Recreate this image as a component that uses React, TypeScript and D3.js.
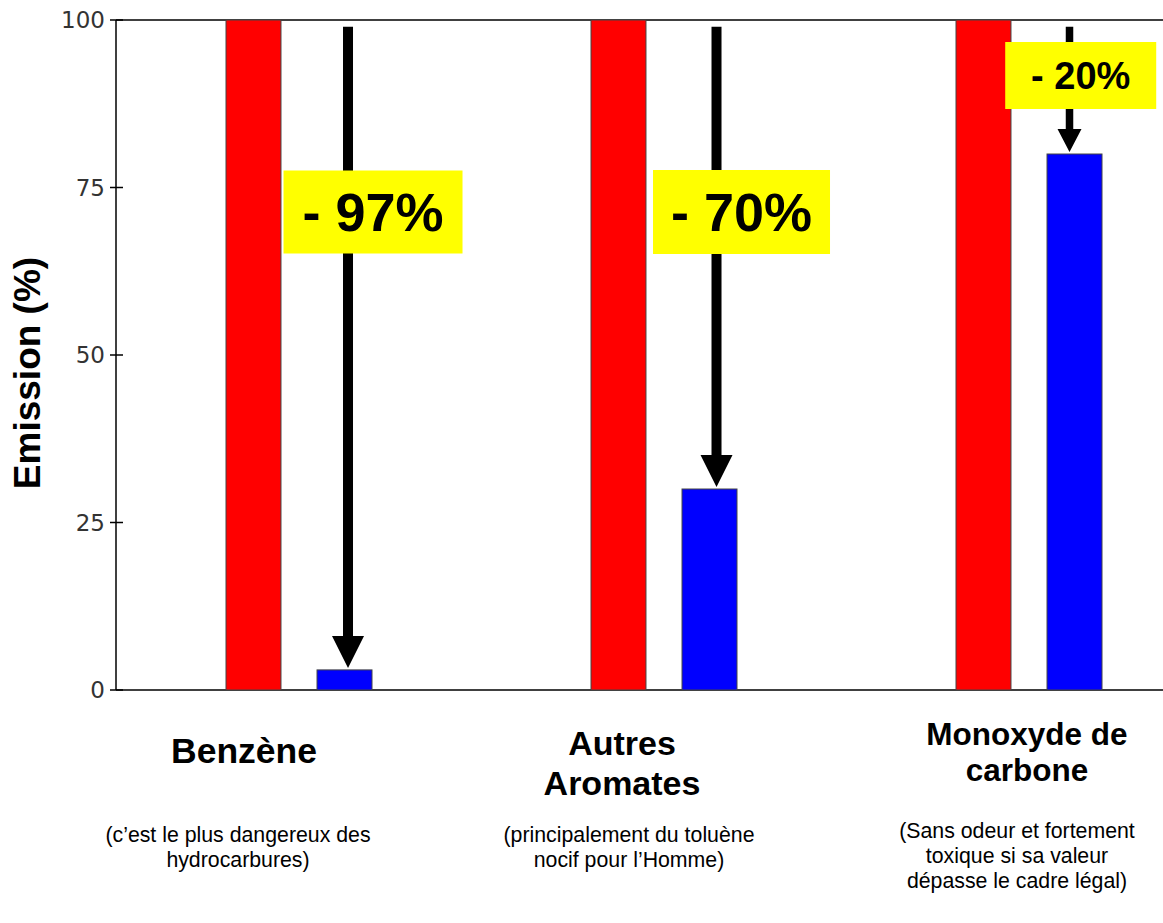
import React from "react";
import * as d3 from "d3";

// ---- data ----
const categories = ["Benzène", "Autres Aromates", "Monoxyde de carbone"];
const categoryLines = [["Benzène"], ["Autres", "Aromates"], ["Monoxyde de", "carbone"]];
const notes = [
  ["(c’est le plus dangereux des", "hydrocarbures)"],
  ["(principalement du toluène", "nocif pour l’Homme)"],
  ["(Sans odeur et fortement", "toxique si sa valeur", "dépasse le cadre légal)"],
];
const series = ["avant", "après"];
const before = [100, 100, 100];
const after = [3, 30, 80];
const yTicks = [0, 25, 50, 75, 100];
const arrowStart = 99;

// ---- layout ----
const W = 1163;
const H = 923;
const axisX = 116;
const bandStep = 365;
const FONT = "'Liberation Sans', Arial, Helvetica, sans-serif";
const arrowStyle = [
  { dx: 3.5, shaft: 10, headW: 32, headH: 32 },
  { dx: 7, shaft: 10, headW: 32, headH: 32 },
  { dx: -5, shaft: 7.5, headW: 24, headH: 23 },
];
const boxStyle = [
  { dx: 28.5, cy: 212, w: 179, h: 83, fs: 54 },
  { dx: 32, cy: 212, w: 177, h: 84, fs: 54 },
  { dx: 6.2, cy: 75.5, w: 151, h: 67, fs: 38 },
];
const labelStyle = [
  { cx: 244, fs: 35.5, baselines: [763], notesCx: 238, notesY: [842, 867] },
  { cx: 622, fs: 34, baselines: [755, 795], notesCx: 629, notesY: [842, 867] },
  { cx: 1027, fs: 31.5, baselines: [745, 781], notesCx: 1017, notesY: [838, 863, 888] },
];

export default function App() {
  const x0 = d3.scaleBand<string>().domain(categories).range([axisX, axisX + bandStep * categories.length]).padding(0);
  const x1 = d3.scaleBand<string>().domain(series).range([110, 256]).paddingInner(0.396).paddingOuter(0);
  const y = d3.scaleLinear().domain([0, 100]).range([690, 20]);

  return (
    <svg width={W} height={H} style={{ position: "absolute", left: 0, top: 0, background: "#fff" }}>
      <rect x={0} y={0} width={W} height={H} fill="#fff" />
      {/* frame lines */}
      <line x1={axisX} x2={W} y1={y(100)} y2={y(100)} stroke="#000" strokeWidth={1.5} />
      <line x1={axisX} x2={W} y1={y(0)} y2={y(0)} stroke="#000" strokeWidth={1.5} />
      <line x1={axisX} x2={axisX} y1={y(100)} y2={y(0)} stroke="#000" strokeWidth={1.5} />
      {yTicks.map((t) => (
        <g key={t}>
          <line x1={110} x2={123} y1={y(t)} y2={y(t)} stroke="#000" strokeWidth={1.5} />
          <text
            x={105}
            y={y(t)}
            dy="0.36em"
            textAnchor="end"
            fontFamily="'DejaVu Sans', sans-serif"
            fontSize={23}
            fill="#333"
          >
            {t}
          </text>
        </g>
      ))}
      <text
        transform={`translate(40,373) rotate(-90)`}
        textAnchor="middle"
        fontFamily={FONT}
        fontWeight="bold"
        fontSize={37}
        fill="#000"
      >
        Emission (%)
      </text>

      {categories.map((c, i) => {
        const gx = x0(c)!;
        const rx = gx + x1("avant")!;
        const bx = gx + x1("après")!;
        const bw = x1.bandwidth();
        const ax = bx + bw / 2 + arrowStyle[i].dx;
        const a = arrowStyle[i];
        const tipY = y(after[i]) - 2;
        const headTop = tipY - a.headH;
        const yTop = y(arrowStart);
        const arrowPath = [
          [ax - a.shaft / 2, yTop],
          [ax + a.shaft / 2, yTop],
          [ax + a.shaft / 2, headTop],
          [ax + a.headW / 2, headTop],
          [ax, tipY],
          [ax - a.headW / 2, headTop],
          [ax - a.shaft / 2, headTop],
        ];
        const bs = boxStyle[i];
        const bcx = bx + bw / 2 + bs.dx;
        const ls = labelStyle[i];
        return (
          <g key={c}>
            <rect x={rx} y={y(before[i])} width={bw} height={y(0) - y(before[i])} fill="#ff0000" stroke="#444" strokeWidth={1} />
            <rect x={bx} y={y(after[i])} width={bw} height={y(0) - y(after[i])} fill="#0000ff" stroke="#444" strokeWidth={1} />
            <path d={d3.line()(arrowPath as [number, number][])! + "Z"} fill="#000" />
            <rect x={bcx - bs.w / 2} y={bs.cy - bs.h / 2} width={bs.w} height={bs.h} fill="#ffff00" />
            <text
              x={bcx}
              y={bs.cy + bs.fs * 0.36}
              textAnchor="middle"
              fontFamily={FONT}
              fontWeight="bold"
              fontSize={bs.fs}
              fill="#000"
            >
              {`- ${before[i] - after[i]}%`}
            </text>
            {categoryLines[i].map((l, j) => (
              <text key={j} x={ls.cx} y={ls.baselines[j]} textAnchor="middle" fontFamily={FONT} fontWeight="bold" fontSize={ls.fs} fill="#000">
                {l}
              </text>
            ))}
            {notes[i].map((l, j) => (
              <text key={j} x={ls.notesCx} y={ls.notesY[j]} textAnchor="middle" fontFamily={FONT} fontSize={21.3} fill="#000">
                {l}
              </text>
            ))}
          </g>
        );
      })}
    </svg>
  );
}
